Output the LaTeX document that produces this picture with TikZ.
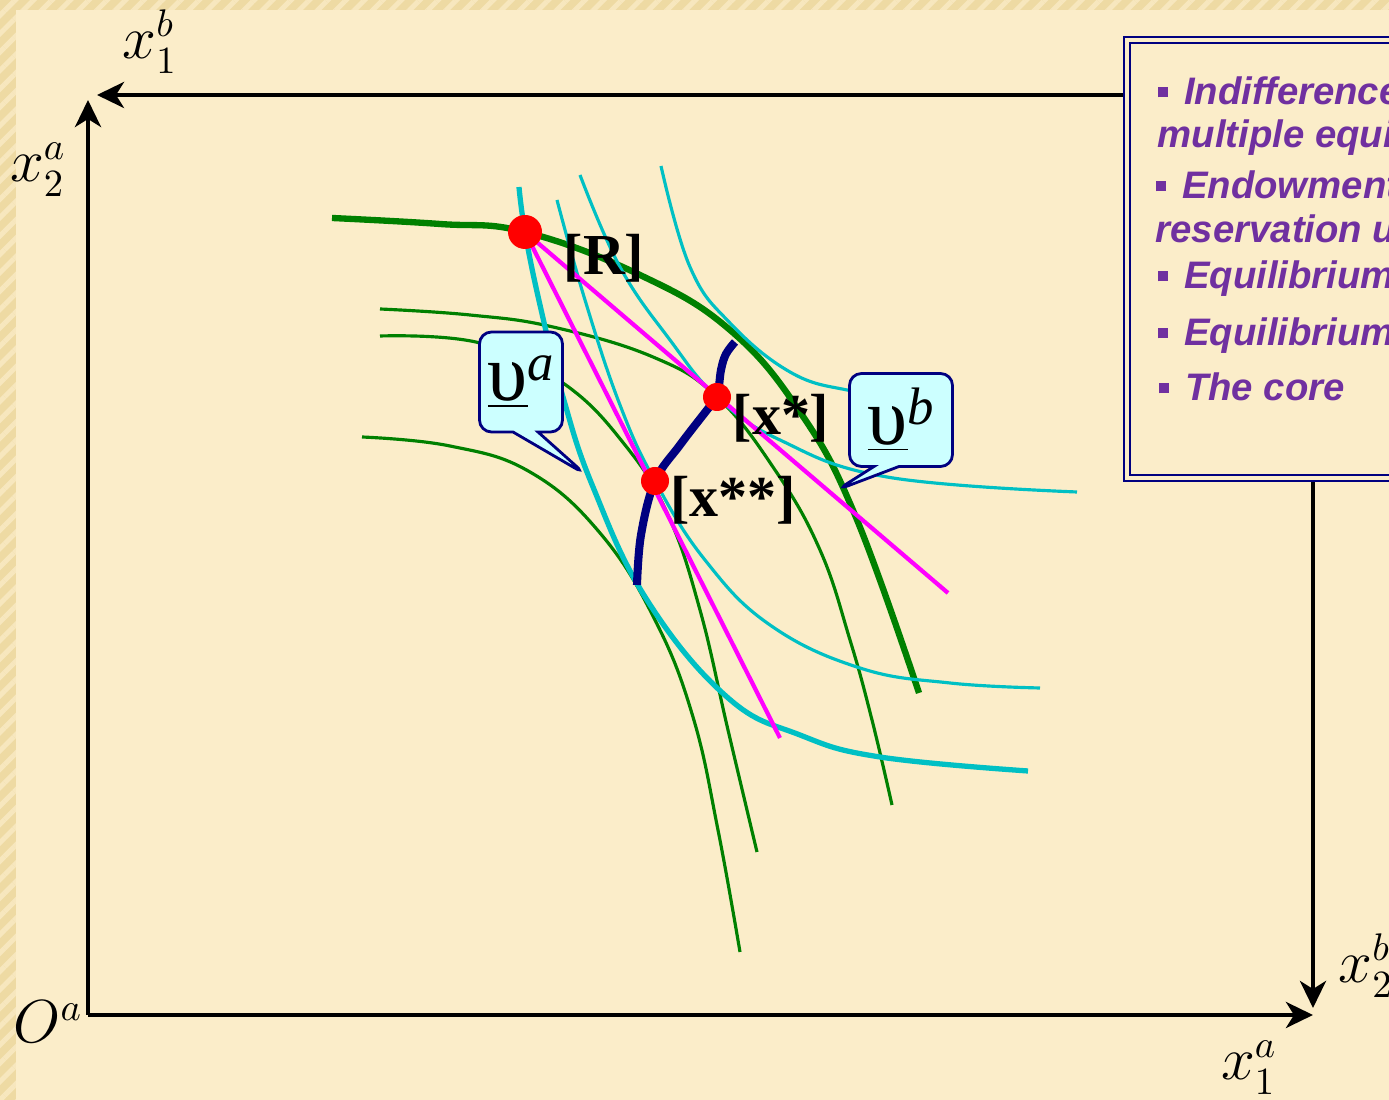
\documentclass[tikz,border=0pt]{standalone}
\usepackage{fontspec}
\setmainfont{Liberation Serif}
\newfontfamily\boxfont{Liberation Sans}
\usepackage{xcolor}
\usetikzlibrary{arrows.meta, positioning, shapes.callouts, patterns.meta}

\definecolor{paper}{RGB}{251,237,201}
\definecolor{band}{RGB}{238,218,163}
\definecolor{icgreen}{RGB}{0,128,0}
\definecolor{iccyan}{RGB}{0,192,196}
\definecolor{navyblue}{RGB}{0,0,128}
\definecolor{boxpurple}{RGB}{112,48,160}
\definecolor{tipfill}{RGB}{204,255,255}
\definecolor{pricemag}{RGB}{255,0,255}

\newcommand{\sqbullet}{\rule[0.2em]{0.27em}{0.27em}\hspace{0.42em}}
\newcommand{\resvu}[1]{\underline{\fontsize{23}{26}\selectfont υ}\raisebox{0.55em}{\fontsize{15}{18}\selectfont\itshape #1}}

\begin{document}
\begin{tikzpicture}[
    x=0.1mm, y=-0.1mm,
    axis/.style={line width=1.2pt, -{Stealth[length=0.27cm, width=0.26cm, inset=0.08cm]}},
    agreen/.style={icgreen, line width=0.9pt},
    agreenthick/.style={icgreen, line width=1.8pt},
    bcyan/.style={iccyan, line width=0.9pt},
    bcyanthick/.style={iccyan, line width=1.5pt},
    price/.style={pricemag, line width=1.2pt},
    coreline/.style={navyblue, line width=2.3pt},
    eqdot/.style={circle, fill=red, inner sep=0pt, minimum size=0.28cm},
    ptlabel/.style={font=\fontsize{16.5}{19}\selectfont\bfseries, inner sep=0pt},
    axlabel/.style={font=\fontsize{16}{19}\selectfont, inner sep=0pt},
    resv/.style={rectangle callout, draw=navyblue, line width=0.8pt, fill=tipfill,
        rounded corners=1.2mm, callout pointer width=0.25cm, inner sep=0pt},
    infobox/.style={rectangle, draw=navyblue, double=paper, double distance=0.9pt,
        line width=0.6pt, fill=paper, anchor=north west, inner sep=0pt},
    boxline/.style={anchor=base west, text=boxpurple, inner sep=0pt,
        font=\boxfont\bfseries\itshape\fontsize{10.9}{13}\selectfont},
]
\useasboundingbox (0,0) rectangle (1389,1100);
\clip (0,0) rectangle (1389,1100);

% Background
\fill[band] (0,0) rectangle (1389,1100);
\fill[pattern={Lines[angle=45, distance=0.13cm, line width=0.05cm]}, pattern color=paper!70!band]
    (0,0) rectangle (1389,1100);
\fill[paper] (16,10) rectangle (1389,1100);

% Edgeworth box axes
\draw[axis] (88,1015) -- (1313,1015);
\draw[axis] (88,1015) -- (88,100);
\draw[axis] (1313,95) -- (97,95);
\draw[axis] (1313,95) -- (1313,1008);

\node[axlabel] (x1b) at (150,42) {$x_1^b$};
\node[axlabel] (x2a) at (38,170) {$x_2^a$};
\node[axlabel] (Oa) at (48,1022) {$O^a$};
\node[axlabel] (x1a) at (1249,1068) {$x_1^a$};
\node[axlabel] (x2b) at (1366,966) {$x_2^b$};

% Key points
\coordinate (pR) at (525,232);
\coordinate (pXs) at (717,397);
\coordinate (pXss) at (655,481);

% Green indifference curves
\draw[agreenthick] plot[smooth, tension=0.7] coordinates {(332,218) (440,224) (525,232) (640,275) (730,330) (800,412) (855,515) (919,693)};
\draw[agreen] plot[smooth, tension=0.7] coordinates {(380,309) (470,315) (553,327) (653,357) (717,397) (775,470) (820,550) (850,640) (872,720) (892,805)};
\draw[agreen] plot[smooth, tension=0.7] coordinates {(380,336) (480,343) (563,383) (625,445) (668,515) (700,610) (728,730) (757,852)};
\draw[agreen] plot[smooth, tension=0.7] coordinates {(362,437) (450,446) (530,472) (600,533) (655,620) (693,717) (718,830) (740,952)};

% Cyan indifference curves
\draw[bcyanthick] plot[smooth, tension=0.7] coordinates {(519,187) (525,232) (540,305) (563,397) (593,487) (647,600) (727,697) (800,735) (880,757) (1028,771)};
\draw[bcyan] plot[smooth, tension=0.7] coordinates {(557,200) (585,300) (620,405) (655,481) (705,560) (770,625) (860,668) (950,683) (1040,688)};
\draw[bcyan] plot[smooth, tension=0.7] coordinates {(580,175) (620,267) (670,340) (717,397) (780,440) (887,477) (1077,492)};
\draw[bcyan] plot[smooth, tension=0.7] coordinates {(661,166) (690,267) (730,323) (790,372) (847,390) (900,395)};

% Price lines
\coordinate (m1end) at (780,738);
\coordinate (m2end) at (948,593);
\draw[price] (pR) -- (m1end);
\draw[price] (pR) -- (m2end);

% Core
\draw[coreline] plot[smooth, tension=0.6] coordinates {(637,585) (641,535) (655,481) (680,445) (707,410) (717,397) (721,370) (726,354) (735,342)};

% Equilibrium points
\node[eqdot, minimum size=0.34cm] (R) at (pR) {};
\node[eqdot] (xs) at (pXs) {};
\node[eqdot] (xss) at (pXss) {};

\node[ptlabel] (Rlab) at (604,258) {[R]};
\node[ptlabel] (xslab) at (781,418) {[x*]};
\node[ptlabel] (xsslab) at (733,500) {[x**]};

% Reservation utilities
\coordinate (tipa) at (585,474);
\coordinate (tipb) at (837,490);
\node[resv, minimum width=0.83cm, minimum height=1.0cm, callout absolute pointer={(tipa)}]
    (ua) at (521,382) {\resvu{a}};
\node[resv, minimum width=1.03cm, minimum height=0.93cm, callout absolute pointer={(tipb)}]
    (ub) at (901,420) {\resvu{b}};

% Outline box
\node[infobox, minimum width=3.2cm, minimum height=4.38cm] (info) at (1126,39) {};
\node[boxline] (l1) at (1157,105) {\sqbullet Indifference};
\node[boxline] (l2) at (1157,148) {multiple equil};
\node[boxline] (l3) at (1155,199) {\sqbullet Endowment};
\node[boxline] (l4) at (1155,243) {reservation us};
\node[boxline] (l5) at (1157,289) {\sqbullet Equilibrium};
\node[boxline] (l6) at (1157,346) {\sqbullet Equilibrium};
\node[boxline] (l7) at (1158,401) {\sqbullet The core};

\end{tikzpicture}
\end{document}
